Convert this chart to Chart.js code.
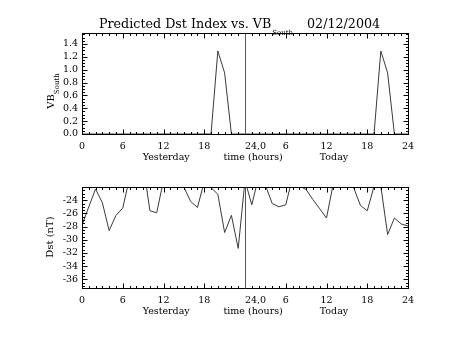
<!DOCTYPE html>
<html>
<head>
<meta charset="utf-8">
<script src="https://cdn.jsdelivr.net/npm/chart.js@4.4.1/dist/chart.umd.min.js"></script>
<style>
  html, body { margin: 0; padding: 0; background: #fff; }
  #wrap { position: relative; width: 453px; height: 340px; }
  #wrap canvas { position: absolute; left: 0; }
</style>
</head>
<body>
<div id="wrap">
  <canvas id="vbChart" width="453" height="170" style="top:0"></canvas>
  <canvas id="dstChart" width="453" height="170" style="top:170px"></canvas>
</div>
<script>
// hours since start of yesterday
const hours = [0, 1, 2, 3, 4, 5, 6, 7, 8, 9, 10, 11, 12, 13, 14, 15, 16, 17, 18, 19, 20, 21, 22, 23, 24,
               25, 26, 27, 28, 29, 30, 31, 32, 33, 34, 35, 36, 37, 38, 39, 40, 41, 42, 43, 44, 45, 46, 47, 48];

const vbSouth = [0, 0, 0, 0, 0, 0, 0, 0, 0, 0, 0, 0, 0, 0, 0, 0, 0, 0, 0, 0, 1.29, 0.95, 0, 0, 0,
                 0, 0, 0, 0, 0, 0, 0, 0, 0, 0, 0, 0, 0, 0, 0, 0, 0, 0, 0, 1.29, 0.95, 0, 0, 0];

const dst = [-27.8, -25.0, -22.3, -24.4, -28.6, -26.3, -25.2, -20.6, -19.5, -18.5, -25.6, -25.9, -21.0,
             -20.5, -21.0, -22.0, -24.2, -25.1, -21.2, -22.1, -23.1, -28.9, -26.3, -31.3, -21.0,
             -24.7, -20.5, -21.7, -24.5, -25.0, -24.7, -20.5, -21.8, -22.4, -23.9, -25.3, -26.7,
             -21.5, -20.5, -21.0, -22.1, -24.8, -25.6, -21.9, -21.9, -29.2, -26.7, -27.6, -27.9];

const xTicks = [0, 6, 12, 18, 24, 30, 36, 42, 48];
const xTickLabels = ['0', '6', '12', '18', '24,0', '6', '12', '18', '24'];
const xSubLabels = ['Yesterday', 'time (hours)', 'Today'];
const vbTicks = [0, 0.2, 0.4, 0.6, 0.8, 1.0, 1.2, 1.4];
const dstTicks = [-36, -34, -32, -30, -28, -26, -24];

const titleMain = 'Predicted Dst Index vs. VB';
const titleSub = 'South';
const titleDate = '02/12/2004';

const FONT = "'DejaVu Serif', serif";
const subLabelAt = [12.4, 25.2, 37.1];

// IDL style box, inward ticks, x labels, y title
const idlAxes = {
  id: 'idlAxes',
  afterDatasetsDraw(chart, args, opts) {
    const { ctx, chartArea: a, scales: { x, y } } = chart;
    ctx.save();
    ctx.strokeStyle = '#000';
    ctx.lineWidth = 1;
    const L = a.left + 0.5, R = Math.round(a.right) + 0.5, T = Math.round(a.top) + 0.5, B = Math.round(a.bottom) + 0.5;
    ctx.strokeRect(L, T, R - L, B - T);

    ctx.beginPath();
    // x ticks, every hour minor, every 6 major
    for (let h = 0; h <= 48; h++) {
      const px = Math.round(x.getPixelForValue(h)) + 0.5;
      const len = h % 6 === 0 ? 5 : 2.5;
      ctx.moveTo(px, B); ctx.lineTo(px, B - len);
      ctx.moveTo(px, T); ctx.lineTo(px, T + len);
    }
    // y ticks
    const step = opts.minor;
    for (let v = y.min; v <= y.max + 1e-9; v += step) {
      const rv = Math.round(v / step) * step;
      if (rv < y.min - 1e-9 || rv > y.max + 1e-9) continue;
      const py = Math.round(y.getPixelForValue(rv)) + 0.5;
      const major = opts.ticks.some(t => Math.abs(t - rv) < 1e-6);
      const len = major ? 5 : 2.5;
      ctx.moveTo(L, py); ctx.lineTo(L + len, py);
      ctx.moveTo(R, py); ctx.lineTo(R - len, py);
    }
    ctx.stroke();

    // divider between yesterday and today
    ctx.beginPath();
    const mid = Math.round(x.getPixelForValue(24)) + 0.5;
    ctx.strokeStyle = '#555';
    ctx.moveTo(mid, T); ctx.lineTo(mid, B);
    ctx.stroke();

    // x tick labels
    ctx.fillStyle = '#000';
    ctx.font = '9.5px ' + FONT;
    ctx.textBaseline = 'alphabetic';
    xTicks.forEach((t, i) => {
      const lbl = xTickLabels[i];
      ctx.textAlign = lbl.includes(',') ? 'left' : 'center';
      ctx.fillText(lbl, x.getPixelForValue(t), B + 14);
    });
    ctx.textAlign = 'center';
    xSubLabels.forEach((s, i) => ctx.fillText(s, x.getPixelForValue(subLabelAt[i]), B + 25));

    // y title, rotated
    ctx.save();
    ctx.translate(opts.titleX, opts.titleY);
    ctx.rotate(-Math.PI / 2);
    ctx.font = '10px ' + FONT;
    ctx.textAlign = 'left';
    const w = ctx.measureText(opts.yTitle).width;
    const sw = opts.ySub ? (ctx.font = '7px ' + FONT, ctx.measureText(opts.ySub).width) : 0;
    ctx.font = '10px ' + FONT;
    const x0 = -(w + sw) / 2;
    ctx.fillText(opts.yTitle, x0, 0);
    if (opts.ySub) {
      ctx.font = '7px ' + FONT;
      ctx.fillText(opts.ySub, x0 + w, 5);
    }
    ctx.restore();

    // main title
    if (opts.title) {
      ctx.font = '12.7px ' + FONT;
      ctx.textAlign = 'left';
      ctx.fillText(titleMain, 99, 28);
      const tw = ctx.measureText(titleMain).width;
      ctx.font = '7px ' + FONT;
      ctx.fillText(titleSub, 99 + tw + 1, 35);
      ctx.font = '12.7px ' + FONT;
      ctx.fillText(titleDate, 307, 28);
    }
    ctx.restore();
  }
};

function makeChart(id, data, yMin, yMax, ticks, pad, pluginOpts, decimals) {
  return new Chart(document.getElementById(id), {
    type: 'line',
    data: {
      labels: hours,
      datasets: [{
        data: hours.map((h, i) => ({ x: h, y: data[i] })),
        borderColor: '#3a3a3a',
        borderWidth: 1,
        pointRadius: 0,
        tension: 0,
        fill: false
      }]
    },
    options: {
      responsive: false,
      animation: false,
      events: [],
      layout: { padding: pad },
      plugins: { legend: { display: false }, tooltip: { enabled: false }, idlAxes: pluginOpts },
      scales: {
        x: { type: 'linear', min: 0, max: 48, display: false },
        y: {
          type: 'linear', min: yMin, max: yMax,
          grid: { display: false, drawTicks: false },
          border: { display: false },
          afterBuildTicks: s => { s.ticks = ticks.map(v => ({ value: v })); },
          afterFit: s => { s.width = 82; },
          ticks: {
            padding: 4,
            color: '#000',
            font: { family: FONT, size: 9.5 },
            callback: v => v.toFixed(decimals)
          }
        }
      }
    },
    plugins: [idlAxes]
  });
}

makeChart('vbChart', vbSouth, 0, 1.57, vbTicks,
  { top: 33, bottom: 36, left: 0, right: 45 },
  { minor: 0.05, ticks: vbTicks, yTitle: 'VB', ySub: 'South', titleX: 54, titleY: 91, title: true }, 1);

makeChart('dstChart', dst, -37.3, -22.0, dstTicks,
  { top: 17, bottom: 52, left: 0, right: 45 },
  { minor: 0.5, ticks: dstTicks, yTitle: 'Dst (nT)', ySub: '', titleX: 53, titleY: 67, title: false }, 0);
</script>
</body>
</html>
